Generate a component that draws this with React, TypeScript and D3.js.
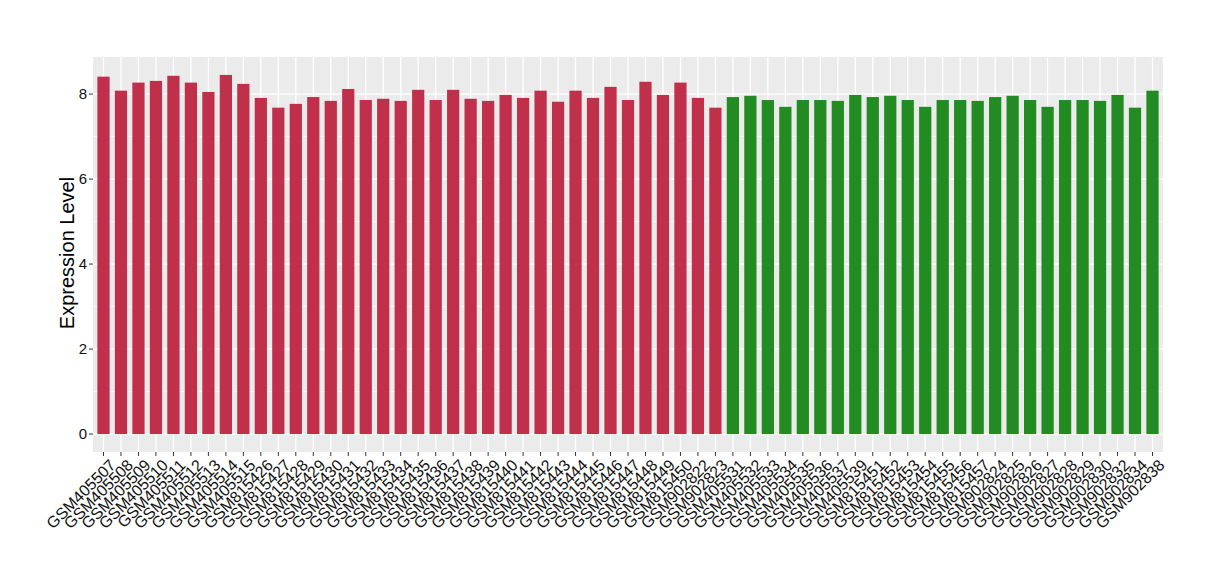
import React from "react";
import * as d3 from "d3";

const redSamples = [
  "GSM405507","GSM405508","GSM405509","GSM405510","GSM405511","GSM405512","GSM405513","GSM405514","GSM405515",
  "GSM815426","GSM815427","GSM815428","GSM815429","GSM815430","GSM815431","GSM815432","GSM815433","GSM815434",
  "GSM815435","GSM815436","GSM815437","GSM815438","GSM815439","GSM815440","GSM815441","GSM815442","GSM815443",
  "GSM815444","GSM815445","GSM815446","GSM815447","GSM815448","GSM815449","GSM815450","GSM902822","GSM902823",
];
const redValues = [
  8.41, 8.08, 8.27, 8.31, 8.43, 8.27, 8.05, 8.45, 8.24,
  7.91, 7.68, 7.77, 7.93, 7.84, 8.12, 7.86, 7.89, 7.84,
  8.10, 7.86, 8.10, 7.89, 7.84, 7.98, 7.91, 8.08, 7.82,
  8.08, 7.91, 8.17, 7.86, 8.29, 7.98, 8.27, 7.91, 7.68,
];
const greenSamples = [
  "GSM405531","GSM405532","GSM405533","GSM405534","GSM405535","GSM405536","GSM405537","GSM405539",
  "GSM815451","GSM815452","GSM815453","GSM815454","GSM815455","GSM815456","GSM815457",
  "GSM902824","GSM902825","GSM902826","GSM902827","GSM902828","GSM902829","GSM902830","GSM902832","GSM902834","GSM902838",
];
const greenValues = [
  7.93, 7.96, 7.86, 7.70, 7.86, 7.86, 7.84, 7.98,
  7.93, 7.96, 7.86, 7.70, 7.86, 7.86, 7.84,
  7.93, 7.96, 7.86, 7.70, 7.86, 7.86, 7.84, 7.98, 7.68, 8.08,
];
const yTicks = [0, 2, 4, 6, 8];
const yMinor = [1, 3, 5, 7];
const yTitle = "Expression Level";
const groupColors = ["#C1304A", "#228B22"];

const W = 1220, H = 580;
const panel = { left: 93, right: 1163, top: 57, bottom: 452 };
const FONT = "'Liberation Sans', Arial, Helvetica, sans-serif";

export default function App() {
  const data = [
    ...redSamples.map((s, i) => ({ s, v: redValues[i], g: 0 })),
    ...greenSamples.map((s, i) => ({ s, v: greenValues[i], g: 1 })),
  ];
  const n = data.length;
  const maxV = d3.max(data, (d) => d.v) as number;
  const pad = maxV * 0.05;
  const y = d3.scaleLinear().domain([-pad, maxV + pad]).range([panel.bottom, panel.top]);
  const step = (panel.right - panel.left) / (n - 1 + 1.2);
  const x = (i: number) => panel.left + (0.6 + i) * step;
  const bw = step * 0.7;

  return (
    <svg width={W} height={H} style={{ position: "absolute", left: 0, top: 0, background: "#fff" }} fontFamily={FONT}>
      <rect x={panel.left} y={panel.top} width={panel.right - panel.left} height={panel.bottom - panel.top} fill="#EBEBEB" />
      {yMinor.map((t) => (
        <line key={"m" + t} x1={panel.left} x2={panel.right} y1={y(t)} y2={y(t)} stroke="#fff" strokeWidth={0.6} />
      ))}
      {yTicks.map((t) => (
        <line key={"g" + t} x1={panel.left} x2={panel.right} y1={y(t)} y2={y(t)} stroke="#fff" strokeWidth={1.3} />
      ))}
      {data.map((d, i) => (
        <line key={"v" + i} x1={x(i)} x2={x(i)} y1={panel.top} y2={panel.bottom} stroke="#fff" strokeWidth={1.3} />
      ))}
      {data.map((d, i) => (
        <rect key={"b" + i} x={x(i) - bw / 2} width={bw} y={y(d.v)} height={y(0) - y(d.v)} fill={groupColors[d.g]} />
      ))}
      {yTicks.map((t) => (
        <g key={"yt" + t}>
          <line x1={panel.left - 4} x2={panel.left} y1={y(t)} y2={y(t)} stroke="#333" strokeWidth={1} />
          <text x={panel.left - 6} y={y(t)} dy="0.36em" textAnchor="end" fontSize={15} fill="#111">{t}</text>
        </g>
      ))}
      {data.map((d, i) => (
        <g key={"xt" + i}>
          <line x1={x(i)} x2={x(i)} y1={panel.bottom} y2={panel.bottom + 4} stroke="#333" strokeWidth={1} />
          <text
            transform={`translate(${x(i) + 5},${panel.bottom + 6}) rotate(-45)`}
            textAnchor="end"
            dy="0.72em"
            fontSize={16}
            fill="#111"
          >
            {d.s}
          </text>
        </g>
      ))}
      <text
        transform={`translate(74,253) rotate(-90)`}
        textAnchor="middle"
        fontSize={20}
        fill="#000"
      >
        {yTitle}
      </text>
    </svg>
  );
}
